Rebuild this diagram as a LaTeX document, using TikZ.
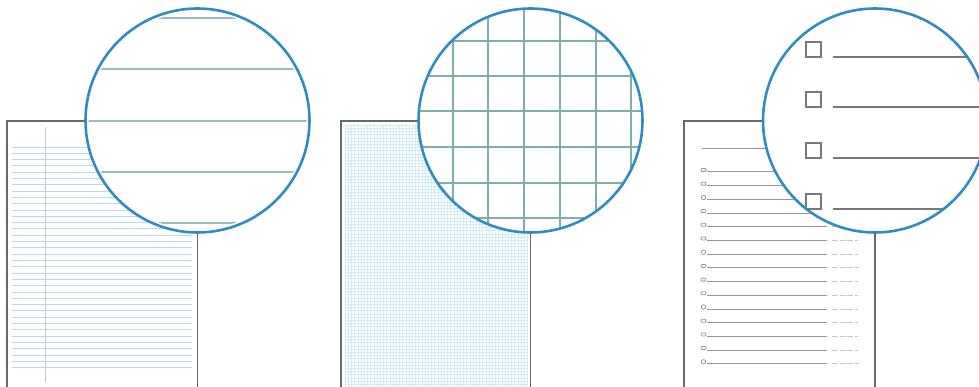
\documentclass[tikz,border=0pt]{standalone}
\definecolor{LensBlue}  {RGB}{48,140,192}
\definecolor{SheetGray} {RGB}{105,105,105}
\definecolor{RuleBlue}  {RGB}{185,220,232}
\definecolor{MarginRose}{RGB}{205,195,205}
\definecolor{ZoomRule}  {RGB}{150,188,192}
\definecolor{GridTeal}  {RGB}{125,176,168}
\definecolor{FineGrid}  {RGB}{206,236,242}
\definecolor{ListGray}  {RGB}{150,150,150}
\usetikzlibrary{calc}

\begin{document}
\begin{tikzpicture}[x=1pt,y=-1pt,
  sheet/.style={draw=SheetGray,line width=1.6pt},
  lens/.style={draw=LensBlue,line width=2.6pt},
  rule/.style={draw=RuleBlue,line width=0.8pt},
  zoomrule/.style={draw=ZoomRule,line width=1.2pt},
  gridline/.style={draw=GridTeal,line width=1.3pt},
  gridbold/.style={draw=GridTeal,line width=2.2pt},
  entry/.style={draw=ListGray,line width=1pt},
  tickbox/.style={draw=ListGray!80!black,line width=1.3pt}]
  \useasboundingbox (0,0) rectangle (979,387);

  % ruled sheet
  \coordinate (L) at (197.5,120.5);
  \foreach \i in {0,...,35}
    \draw[rule] (12,147+6.3*\i) -- (192,147+6.3*\i);
  \draw[MarginRose,line width=1pt] (45,127) -- (45,382);
  \draw[sheet] (7,395) |- (197.5,121) -- (197.5,395);
  \fill[white] (L) circle[radius=112];
  \begin{scope}
    \clip (L) circle[radius=109];
    \foreach \y in {18,69,121,172,223}
      \draw[zoomrule] (80,\y) -- (320,\y);
  \end{scope}
  \draw[lens] (L) circle[radius=112];

  % squared sheet
  \coordinate (G) at (530.5,120.5);
  \foreach \i in {0,...,57}
    \draw[FineGrid,line width=0.5pt] (345+3.2*\i,125) -- (345+3.2*\i,390);
  \foreach \i in {0,...,83}
    \draw[FineGrid,line width=0.5pt] (345,125+3.2*\i) -- (528,125+3.2*\i);
  \draw[sheet] (341,395) |- (530.5,121) -- (530.5,395);
  \fill[white] (G) circle[radius=112];
  \begin{scope}
    \clip (G) circle[radius=111];
    \foreach \x in {488,524,560,596}
      \draw[gridline] (\x,0) -- (\x,240);
    \foreach \y in {41,111,147,183,218}
      \draw[gridline] (410,\y) -- (650,\y);
    \draw[gridbold] (453,0) -- (453,240);
    \draw[gridbold] (631,0) -- (631,240);
    \draw[gridbold] (410,76) -- (650,76);
  \end{scope}
  \draw[lens] (G) circle[radius=112];

  % checklist sheet
  \coordinate (C) at (875,120.5);
  \draw[entry] (702,149) -- (800,149);
  \foreach \i in {0,...,14}{
    \pgfmathtruncatemacro{\k}{mod(\i,4)}
    \pgfmathsetmacro{\y}{172+13.7*\i}
    \ifnum\k=2
      \draw[ListGray,line width=0.8pt] (703.5,\y-2) circle[radius=2.2];
    \else
      \draw[ListGray,line width=0.8pt,rounded corners=1pt] (701,\y-3.5) rectangle (706,\y-0.5);
    \fi
    \draw[entry] (707,\y) -- (827,\y);
    \draw[ListGray!55,line width=1pt,dash pattern=on 6pt off 1.5pt] (832,\y) -- (858,\y);
  }
  \draw[sheet] (684,395) |- (875,121) -- (875,395);
  \fill[white] (C) circle[radius=112];
  \begin{scope}
    \clip (C) circle[radius=111];
    \foreach \y in {57,107,158,209}{
      \draw[tickbox] (806,\y-15) rectangle (821,\y);
      \draw[entry,line width=1.4pt,draw=ListGray!80!black] (833,\y) -- (995,\y);
    }
  \end{scope}
  \draw[lens] (C) circle[radius=112];
\end{tikzpicture}
\end{document}
